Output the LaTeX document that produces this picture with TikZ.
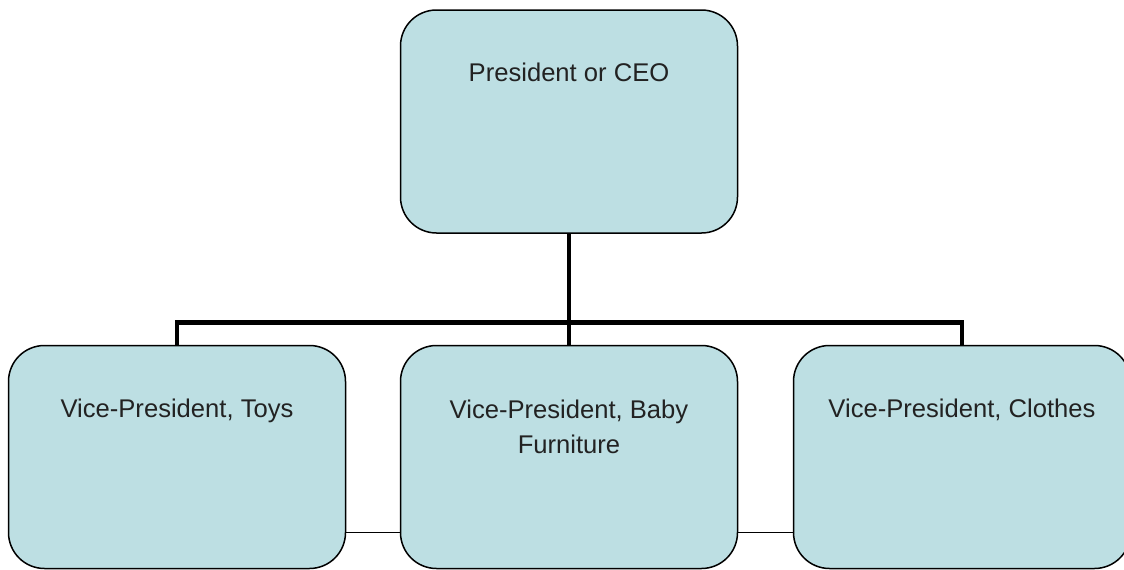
\documentclass[tikz,border=0pt]{standalone}
\usepackage{fontspec}
\setmainfont{Liberation Sans}
\usetikzlibrary{backgrounds}
\definecolor{boxfill}{HTML}{BDDFE3}
\definecolor{txt}{HTML}{222222}
\begin{document}
\begin{tikzpicture}[x=1pt,y=-1pt,
  orgbox/.style={draw=black, line width=1.5pt, fill=boxfill, rounded corners=36pt,
    minimum width=337pt, minimum height=223pt, inner sep=0pt},
  boxtext/.style={anchor=base, text=txt, font=\fontsize{25.6pt}{35pt}\selectfont, align=center, inner sep=0pt},
  thick link/.style={line width=4.5pt, line cap=rect},
  thin link/.style={line width=1.5pt}]
\useasboundingbox (0,0) rectangle (1124,570);
\node[orgbox] (ceo) at (569,121.5) {};
\node[orgbox] (toys) at (177,457) {};
\node[orgbox] (furn) at (569,457) {};
\node[orgbox] (cloth) at (962,457) {};
\coordinate (bus) at (569,322.5);
\coordinate (low) at (0,532.5);
\begin{scope}[on background layer]
\draw[thick link] (ceo.south) -- (furn.north);
\draw[thick link] (toys.north) |- (bus) -| (cloth.north);
\draw[thin link] (toys.east |- low) -- (furn.west |- low);
\draw[thin link] (furn.east |- low) -- (cloth.west |- low);
\end{scope}
\node[boxtext] (tceo) at (569,81) {President or CEO};
\node[boxtext] (ttoys) at (177,417) {Vice-President, Toys};
\node[boxtext, anchor=north] (tfurn) at (569,399.5) {\rule{0pt}{18.4pt}Vice-President, Baby\\Furniture};
\node[boxtext] (tcloth) at (962,417) {Vice-President, Clothes};
\end{tikzpicture}
\end{document}
